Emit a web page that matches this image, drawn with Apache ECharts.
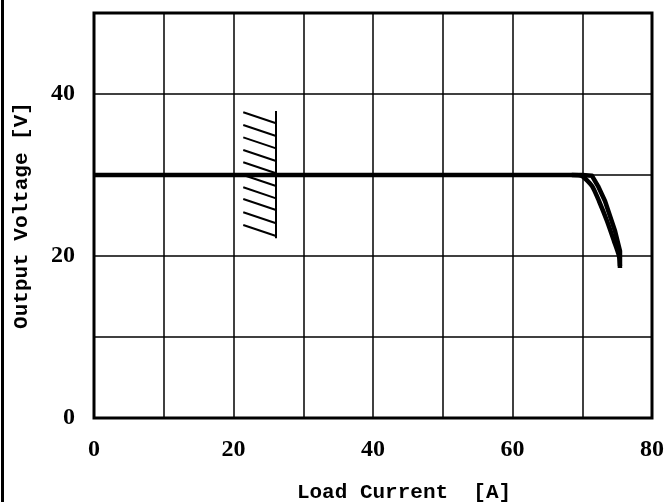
<!DOCTYPE html>
<html>
<head>
<meta charset="utf-8">
<script src="https://cdn.jsdelivr.net/npm/echarts@6/dist/echarts.min.js"></script>
<style>
  html, body { margin: 0; padding: 0; background: #fff; }
  #chart { width: 667px; height: 502px; }
</style>
</head>
<body>
<div id="chart"></div>
<script>
// Output voltage vs. load current: constant-voltage region, then current-limit droop.
const xTicks = [0, 20, 40, 60, 80];
const yTicks = [0, 20, 40];

// Increasing-load sweep (stays at 30 V until the limit knee)
const sweepUp = [
  [0, 30], [10, 30], [20, 30], [30, 30], [40, 30], [50, 30], [60, 30],
  [70, 30], [71.4, 29.9], [72.26, 28.64], [73.26, 26.79], [73.98, 24.94],
  [74.7, 23.09], [75.41, 20.62], [75.41, 18.77]
];
// Decreasing-load sweep (rounds off earlier at the knee)
const sweepDown = [
  [68.5, 30], [69.96, 29.88], [71.4, 28.64], [72.4, 26.79], [73.55, 24.32],
  [74.55, 21.85], [75.27, 20.0], [75.41, 18.52]
];

// Hatched limit marker near 25 A: wall line and slanted strokes
const wallX = 26.1;
const wallY = [22.2, 37.9];
const hatchLeftX = 21.4;
const hatchStartY = [37.74, 36.17, 34.65, 33.09, 31.57, 30.0, 28.48, 27.04, 25.40, 23.83];
const hatchDrop = 1.36;

const hatchLines = hatchStartY.map(y => ({ coords: [[hatchLeftX, y], [wallX, y - hatchDrop]] }));
hatchLines.push({ coords: [[wallX, wallY[0]], [wallX, wallY[1]]] });

const chart = echarts.init(document.getElementById('chart'));
const labelFont = { fontFamily: 'Liberation Serif', fontWeight: 'bold', fontSize: 24, color: '#000' };
const nameFont = { fontFamily: 'Liberation Mono', fontWeight: 'bold', fontSize: 21, color: '#000' };

chart.setOption({
  animation: false,
  backgroundColor: '#fff',
  grid: {
    left: 94, right: 15, top: 13, bottom: 84,
    outerBoundsMode: 'none', containLabel: false,
    show: true, borderColor: '#000', borderWidth: 3, backgroundColor: 'transparent'
  },
  graphic: [{
    type: 'rect', left: 1, top: 0,
    shape: { width: 3, height: 502 },
    style: { fill: '#000' }
  }],
  xAxis: {
    type: 'value', min: 0, max: 80, interval: 10,
    name: 'Load Current  [A]',
    nameLocation: 'middle', nameGap: 64,
    nameTextStyle: Object.assign({ padding: [0, 0, 0, 62] }, nameFont),
    axisLine: { show: false },
    axisTick: { show: false },
    splitLine: { show: true, lineStyle: { color: '#000', width: 1.5 } },
    axisLabel: Object.assign({
      margin: 20,
      formatter: v => xTicks.includes(v) ? String(v) : ''
    }, labelFont)
  },
  yAxis: {
    type: 'value', min: 0, max: 50, interval: 10,
    name: 'Output Voltage [V]',
    nameLocation: 'middle', nameGap: 62,
    nameTextStyle: nameFont,
    axisLine: { show: false },
    axisTick: { show: false },
    splitLine: { show: true, lineStyle: { color: '#000', width: 1.5 } },
    axisLabel: Object.assign({
      margin: 19,
      formatter: v => yTicks.includes(v) ? String(v) : ''
    }, labelFont)
  },
  series: [
    {
      type: 'line', data: sweepUp, showSymbol: false,
      lineStyle: { color: '#000', width: 4.5, join: 'round' }, z: 5
    },
    {
      type: 'line', data: sweepDown, showSymbol: false, smooth: 0.2,
      lineStyle: { color: '#000', width: 4.5, join: 'round' }, z: 5
    },
    {
      type: 'lines', coordinateSystem: 'cartesian2d', data: hatchLines,
      lineStyle: { color: '#000', width: 2, opacity: 1 }, z: 4
    }
  ]
});
</script>
</body>
</html>
